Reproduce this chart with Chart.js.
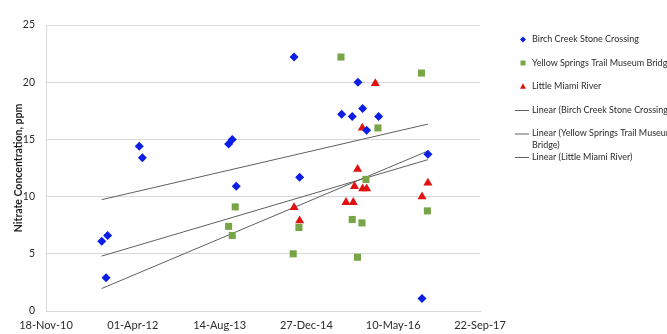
<!DOCTYPE html>
<html>
<head>
<meta charset="utf-8">
<script src="https://cdn.jsdelivr.net/npm/chart.js@4.4.1/dist/chart.umd.min.js"></script>
<style>
  html, body { margin: 0; padding: 0; background: #fff; }
</style>
</head>
<body>
<canvas id="chartNitrate" width="667" height="334"></canvas>
<script>
// x axis: days counted from the first tick date, ticks every 500 days
const startDate = "2010-11-18";
const tickStepDays = 500;
const tickCount = 5;

const birchLabel = "Birch Creek Stone Crossing";
const birchDates = ["2011-10-05", "2011-10-30", "2011-11-08", "2012-05-08", "2012-05-26",
  "2013-10-05", "2013-10-26", "2013-11-18", "2014-10-17", "2014-11-18", "2015-07-18",
  "2015-09-17", "2015-10-20", "2015-11-16", "2015-12-09", "2016-02-16", "2016-10-23", "2016-11-26"];
const birchValues = [6.1, 2.9, 6.6, 14.4, 13.4, 14.6, 15.0, 10.9, 22.2, 11.7, 17.2,
  17.0, 20.0, 17.7, 15.8, 17.0, 1.1, 13.7];

const yellowLabel = "Yellow Springs Trail Museum Bridge";
const yellowDates = ["2013-10-05", "2013-10-26", "2013-11-12", "2014-10-12", "2014-11-14",
  "2015-07-14", "2015-09-17", "2015-10-17", "2015-11-12", "2015-12-05", "2016-02-12",
  "2016-10-20", "2016-11-23"];
const yellowValues = [7.4, 6.6, 9.1, 5.0, 7.3, 22.2, 8.0, 4.7, 7.7, 11.5, 16.0, 20.8, 8.75];

const miamiLabel = "Little Miami River";
const miamiDates = ["2014-10-17", "2014-11-18", "2015-08-12", "2015-09-23", "2015-09-30",
  "2015-10-18", "2015-11-14", "2015-11-16", "2015-12-09", "2016-01-28", "2016-10-23", "2016-11-26"];
const miamiValues = [9.05, 7.9, 9.5, 9.5, 10.9, 12.4, 16.0, 10.7, 10.7, 19.9, 10.0, 11.2];

const MONTHS = ["Jan", "Feb", "Mar", "Apr", "May", "Jun", "Jul", "Aug", "Sep", "Oct", "Nov", "Dec"];
const DAY = 86400000;

function toUtc(s) {
  const [y, m, d] = s.split("-").map(Number);
  return Date.UTC(y, m - 1, d);
}
const baseMs = toUtc(startDate);
const toDays = s => (toUtc(s) - baseMs) / DAY;

function fmtDate(days) {
  const d = new Date(baseMs + days * DAY);
  const dd = String(d.getUTCDate()).padStart(2, "0");
  const yy = String(d.getUTCFullYear() % 100).padStart(2, "0");
  return dd + "-" + MONTHS[d.getUTCMonth()] + "-" + yy;
}

function points(dates, values) {
  return dates.map((s, i) => ({ x: toDays(s), y: values[i] }));
}

// least squares line, drawn across the full range of sampling dates
const allDays = [...birchDates, ...yellowDates, ...miamiDates].map(toDays);
const xFrom = Math.min(...allDays);
const xTo = Math.max(...allDays);

function trend(pts) {
  const n = pts.length;
  const mx = pts.reduce((s, p) => s + p.x, 0) / n;
  const my = pts.reduce((s, p) => s + p.y, 0) / n;
  let sxy = 0, sxx = 0;
  pts.forEach(p => { sxy += (p.x - mx) * (p.y - my); sxx += (p.x - mx) ** 2; });
  const b = sxy / sxx;
  const a = my - b * mx;
  return [{ x: xFrom, y: a + b * xFrom }, { x: xTo, y: a + b * xTo }];
}

const birchPts = points(birchDates, birchValues);
const yellowPts = points(yellowDates, yellowValues);
const miamiPts = points(miamiDates, miamiValues);

const FONT = "Lato, 'Open Sans', sans-serif";
const TEXT = "#2b2b2b";
const GRID = "#d9d9d9";
const TREND = "#5f5f5f";

const trendStyle = {
  showLine: true, borderColor: TREND, borderWidth: 1, pointRadius: 0,
  pointHoverRadius: 0, fill: false, legendLine: true
};

const data = {
  datasets: [
    { label: birchLabel, data: birchPts, pointStyle: "rectRot", pointRadius: 4.5,
      backgroundColor: "#0b1ee6", borderWidth: 0 },
    { label: yellowLabel, data: yellowPts, pointStyle: "rect", pointRadius: 5,
      backgroundColor: "#78a547", borderWidth: 0 },
    { label: miamiLabel, data: miamiPts, pointStyle: "triangle", pointRadius: 5.2,
      backgroundColor: "#e0120f", borderWidth: 0 },
    { label: "Linear (" + birchLabel + ")", data: trend(birchPts), ...trendStyle },
    { label: "Linear (" + yellowLabel + ")", data: trend(yellowPts), ...trendStyle },
    { label: "Linear (" + miamiLabel + ")", data: trend(miamiPts), ...trendStyle },
  ],
};

// Excel-like legend at the right, text runs off the edge of the picture
const sideLegend = {
  id: "sideLegend",
  afterDraw(chart) {
    const ctx = chart.ctx;
    ctx.save();
    ctx.font = "9px " + FONT;
    ctx.fillStyle = TEXT;
    ctx.textBaseline = "middle";
    chart.data.datasets.forEach((ds, i) => {
      const y = 39.5 + i * 23.5;
      if (ds.legendLine) {
        ctx.strokeStyle = TREND;
        ctx.lineWidth = 1;
        ctx.beginPath();
        ctx.moveTo(515, y + 0.5);
        ctx.lineTo(529, y + 0.5);
        ctx.stroke();
      } else {
        ctx.fillStyle = ds.backgroundColor;
        ctx.beginPath();
        if (ds.pointStyle === "rectRot") {
          ctx.moveTo(523, y - 3); ctx.lineTo(526, y); ctx.lineTo(523, y + 3); ctx.lineTo(520, y);
        } else if (ds.pointStyle === "rect") {
          ctx.rect(520.5, y - 2.5, 5, 5);
        } else {
          ctx.moveTo(523, y - 3.2); ctx.lineTo(526, y + 2.3); ctx.lineTo(520, y + 2.3);
        }
        ctx.closePath();
        ctx.fill();
        ctx.fillStyle = TEXT;
      }
      // wrap long entries the way the legend box does
      const words = ds.label.split(" ");
      const lines = [];
      let cur = "";
      words.forEach(w => {
        const t = cur ? cur + " " + w : w;
        if (cur && ds.legendLine && ctx.measureText(t).width > 160) { lines.push(cur); cur = w; }
        else cur = t;
      });
      lines.push(cur);
      lines.forEach((ln, k) => ctx.fillText(ln, 532, y + k * 11.7));
    });
    ctx.restore();
  }
};

const config = {
  type: "scatter",
  data,
  options: {
    responsive: false,
    animation: false,
    layout: { padding: { top: 25, right: 187, bottom: 0, left: 0 } },
    plugins: { legend: { display: false }, tooltip: { enabled: false } },
    scales: {
      x: {
        type: "linear",
        min: 0,
        max: tickStepDays * tickCount,
        ticks: {
          stepSize: tickStepDays,
          autoSkip: false,
          maxRotation: 0,
          padding: 8,
          color: TEXT,
          font: { family: FONT, size: 11 },
          callback: v => fmtDate(v),
        },
        grid: { display: false, drawTicks: false },
        border: { color: GRID },
        afterFit: s => { s.height = 23; },
      },
      y: {
        min: 0,
        max: 25,
        ticks: { stepSize: 5, padding: 11, color: TEXT, font: { family: FONT, size: 10.5 } },
        grid: { color: GRID, drawTicks: false },
        border: { color: GRID },
        title: {
          display: true,
          text: "Nitrate Concentration, ppm",
          color: "#1e1e1e",
          font: { family: FONT, size: 10.5, weight: "bold" },
          padding: { top: 12, bottom: 0 },
        },
        afterFit: s => { s.width = 46; },
      },
    },
  },
  plugins: [sideLegend],
};

const chartNitrate = new Chart(document.getElementById("chartNitrate"), config);
</script>
</body>
</html>
